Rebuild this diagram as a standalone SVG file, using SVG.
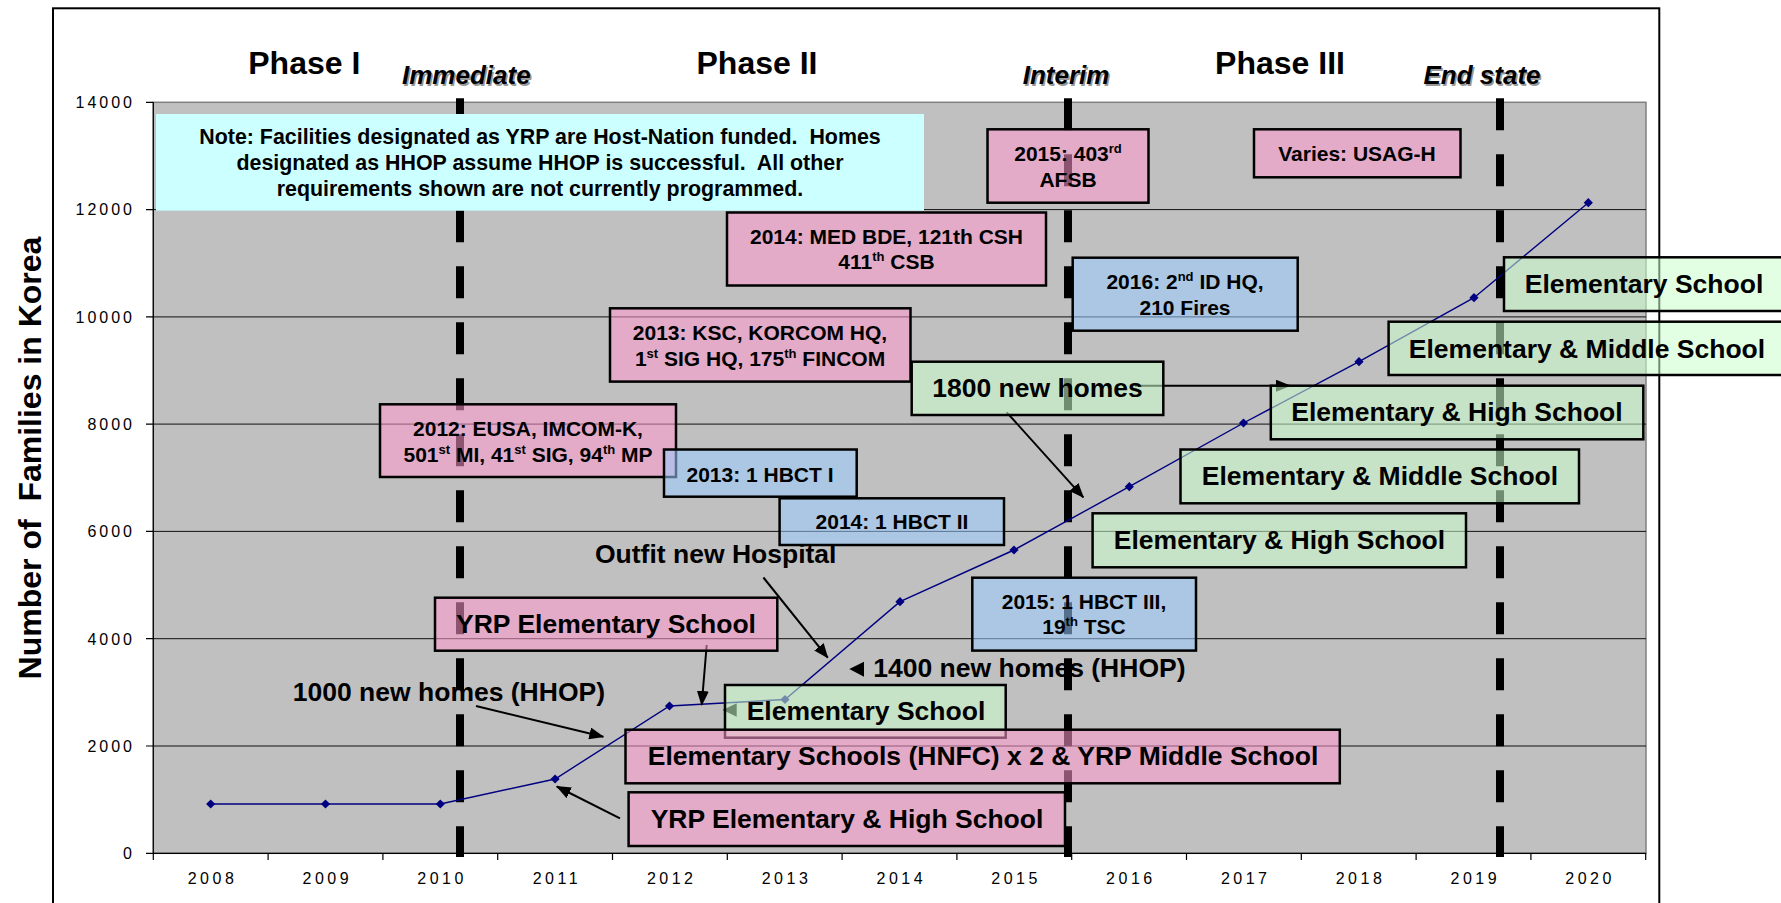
<svg xmlns="http://www.w3.org/2000/svg" width="1781" height="903" viewBox="0 0 1781 903">
<defs>
<style>
text{font-family:"Liberation Sans",Arial,sans-serif;font-weight:bold;fill:#000}
.ph{font-size:32px;text-anchor:middle}
.it{font-size:26px;font-style:italic;text-anchor:middle}
.sh{fill:#999}
.ax{font-weight:normal;font-size:16px;letter-spacing:3px}
.ytl{text-anchor:end}
.xtl{text-anchor:middle;letter-spacing:3.5px}
.s{font-size:21px;text-anchor:middle}
.nt{font-size:21.4px;text-anchor:middle;white-space:pre}
.b{font-size:26.5px;text-anchor:middle}
.bs{font-size:26.5px}
.sup{font-size:13px}
.bx{stroke:#000;stroke-width:2.5}
.pk{fill:#FF99CC;fill-opacity:.55}
.bl{fill:#99CCFF;fill-opacity:.55}
.gr{fill:#CCFFCC;fill-opacity:.55}
.grid{stroke:#111;stroke-width:1}
.dash{stroke:#000;stroke-width:8;stroke-dasharray:32 24;fill:none}
.conn{stroke:#000;stroke-width:2;fill:none}
</style>
<marker id="ah" viewBox="0 0 15 12" refX="14" refY="6" markerWidth="15" markerHeight="12" markerUnits="userSpaceOnUse" orient="auto">
<path d="M0,0 L15,6 L0,12 z" fill="#000"/>
</marker>
<path id="dm" d="M0,-4.6 L4.6,0 L0,4.6 L-4.6,0 z" fill="#000080"/>
</defs>
<rect width="1781" height="903" fill="#fff"/>
<rect x="53" y="8.3" width="1606.3" height="1000" fill="none" stroke="#000" stroke-width="2"/>

<g id="chart">
<rect x="153.3" y="102.3" width="1492.7" height="751" fill="#C0C0C0" stroke="#808080" stroke-width="1.5"/>
<g class="grid">
<line x1="153.3" y1="746" x2="1646" y2="746"/>
<line x1="153.3" y1="638.7" x2="1646" y2="638.7"/>
<line x1="153.3" y1="531.4" x2="1646" y2="531.4"/>
<line x1="153.3" y1="424.1" x2="1646" y2="424.1"/>
<line x1="153.3" y1="316.9" x2="1646" y2="316.9"/>
<line x1="153.3" y1="209.6" x2="1646" y2="209.6"/>
</g>
<g stroke="#000" stroke-width="1.2">
<line x1="153.3" y1="102.3" x2="153.3" y2="853.3"/>
<line x1="153.3" y1="853.3" x2="1646" y2="853.3"/>
<path d="M146,853.3H153.3M146,746H153.3M146,638.7H153.3M146,531.4H153.3M146,424.1H153.3M146,316.9H153.3M146,209.6H153.3M146,102.3H153.3"/>
<path d="M153.3,853.3V860M268.1,853.3V860M382.9,853.3V860M497.7,853.3V860M612.5,853.3V860M727.3,853.3V860M842.1,853.3V860M956.9,853.3V860M1071.7,853.3V860M1186.5,853.3V860M1301.3,853.3V860M1416.1,853.3V860M1530.9,853.3V860M1645.7,853.3V860"/>
</g>
<g>
<text class="ax ytl" x="135" y="859">0</text>
<text class="ax ytl" x="135" y="751.8">2000</text>
<text class="ax ytl" x="135" y="644.5">4000</text>
<text class="ax ytl" x="135" y="537.2">6000</text>
<text class="ax ytl" x="135" y="429.9">8000</text>
<text class="ax ytl" x="135" y="322.7">10000</text>
<text class="ax ytl" x="135" y="215.4">12000</text>
<text class="ax ytl" x="135" y="108.1">14000</text>
</g>
<g>
<text class="ax xtl" x="212.5" y="883.5">2008</text>
<text class="ax xtl" x="327.3" y="883.5">2009</text>
<text class="ax xtl" x="442.1" y="883.5">2010</text>
<text class="ax xtl" x="556.9" y="883.5">2011</text>
<text class="ax xtl" x="671.7" y="883.5">2012</text>
<text class="ax xtl" x="786.5" y="883.5">2013</text>
<text class="ax xtl" x="901.3" y="883.5">2014</text>
<text class="ax xtl" x="1016.1" y="883.5">2015</text>
<text class="ax xtl" x="1130.9" y="883.5">2016</text>
<text class="ax xtl" x="1245.7" y="883.5">2017</text>
<text class="ax xtl" x="1360.5" y="883.5">2018</text>
<text class="ax xtl" x="1475.3" y="883.5">2019</text>
<text class="ax xtl" x="1590.1" y="883.5">2020</text>
</g>
<text transform="translate(41,458) rotate(-90)" font-size="32" text-anchor="middle" style="white-space:pre">Number of  Families in Korea</text>
</g>

<g id="phases">
<text class="ph" x="304.3" y="74">Phase I</text>
<text class="ph" x="757" y="74">Phase II</text>
<text class="ph" x="1280" y="74">Phase III</text>
<text class="it sh" x="467.8" y="85.5">Immediate</text>
<text class="it" x="466.3" y="84">Immediate</text>
<text class="it sh" x="1067.5" y="85.5">Interim</text>
<text class="it" x="1066" y="84">Interim</text>
<text class="it sh" x="1483.5" y="85.5">End state</text>
<text class="it" x="1482" y="84">End state</text>
</g>

<g id="milestones">
<line class="dash" x1="460" y1="98.3" x2="460" y2="857"/>
<line class="dash" x1="1068" y1="98.3" x2="1068" y2="857"/>
<line class="dash" x1="1500" y1="98.3" x2="1500" y2="857"/>
</g>

<g id="series">
<polyline points="210.7,804 325.5,804 440.3,804 555.1,779 669.5,706 785,699.5 900,601.7 1014,550 1129.3,486.7 1243.5,423 1359,361.7 1474,297.7 1588.3,202.7" fill="none" stroke="#000080" stroke-width="1.4"/>
<use href="#dm" x="210.7" y="804"/>
<use href="#dm" x="325.5" y="804"/>
<use href="#dm" x="440.3" y="804"/>
<use href="#dm" x="555.1" y="779"/>
<use href="#dm" x="669.5" y="706"/>
<use href="#dm" x="785" y="699.5"/>
<use href="#dm" x="900" y="601.7"/>
<use href="#dm" x="1014" y="550"/>
<use href="#dm" x="1129.3" y="486.7"/>
<use href="#dm" x="1243.5" y="423"/>
<use href="#dm" x="1359" y="361.7"/>
<use href="#dm" x="1474" y="297.7"/>
<use href="#dm" x="1588.3" y="202.7"/>
</g>

<g id="connectors">
<line class="conn" x1="476" y1="706" x2="603.3" y2="736.7" marker-end="url(#ah)"/>
<line class="conn" x1="706.7" y1="645" x2="701.7" y2="705" marker-end="url(#ah)"/>
<line class="conn" x1="763.4" y1="577.5" x2="827.7" y2="657.7" marker-end="url(#ah)"/>
<line class="conn" x1="620" y1="818.3" x2="556.8" y2="786.5" marker-end="url(#ah)"/>
<line class="conn" x1="1006.7" y1="412.3" x2="1083.3" y2="497.3" marker-end="url(#ah)"/>
<line class="conn" x1="1135" y1="385.7" x2="1290" y2="385.7" marker-end="url(#ah)"/>
<polygon points="849.3,669 864,661.7 864,676.7" fill="#000"/>
<polygon points="722.7,710 736.7,703.3 736.7,716.7" fill="#000"/>
</g>

<g id="note">
<rect x="156" y="114" width="768" height="96.7" fill="#CCFFFF"/>
<text class="nt" x="540" y="144">Note: Facilities designated as YRP are Host-Nation funded.  Homes</text>
<text class="nt" x="540" y="170">designated as HHOP assume HHOP is successful.  All other</text>
<text class="nt" x="540" y="195.5">requirements shown are not currently programmed.</text>
</g>

<g id="n2012-eusa">
<rect class="bx pk" x="380" y="404.3" width="296" height="72.7"/>
<text class="s" x="528" y="436">2012: EUSA, IMCOM-K,</text>
<text class="s" x="528" y="461.7">501<tspan class="sup" dy="-8">st</tspan><tspan dy="8"> MI, 41</tspan><tspan class="sup" dy="-8">st</tspan><tspan dy="8"> SIG, 94</tspan><tspan class="sup" dy="-8">th</tspan><tspan dy="8"> MP</tspan></text>
</g>
<g id="n2013-hbct1">
<rect class="bx bl" x="664" y="449.5" width="192.7" height="47.2"/>
<text class="s" x="760" y="481.7">2013: 1 HBCT I</text>
</g>
<g id="n2013-ksc">
<rect class="bx pk" x="610" y="308.3" width="300.5" height="73.3"/>
<text class="s" x="760" y="340">2013: KSC, KORCOM HQ,</text>
<text class="s" x="760" y="365.7">1<tspan class="sup" dy="-8">st</tspan><tspan dy="8"> SIG HQ, 175</tspan><tspan class="sup" dy="-8">th</tspan><tspan dy="8"> FINCOM</tspan></text>
</g>
<g id="n2014-med">
<rect class="bx pk" x="727" y="212.5" width="319" height="73"/>
<text class="s" x="886.5" y="244">2014: MED BDE, 121th CSH</text>
<text class="s" x="886.5" y="269">411<tspan class="sup" dy="-8">th</tspan><tspan dy="8"> CSB</tspan></text>
</g>
<g id="n2014-hbct2">
<rect class="bx bl" x="779.6" y="498.3" width="224.4" height="46.7"/>
<text class="s" x="892" y="529.3">2014: 1 HBCT II</text>
</g>
<g id="n-yrp-es">
<rect class="bx pk" x="435" y="597.7" width="342.3" height="53"/>
<text class="b" x="606" y="633.3">YRP Elementary School</text>
</g>
<g id="n-es-2013">
<rect class="bx gr" x="725" y="685" width="280.7" height="52.7"/>
<text class="bs" x="746.7" y="720">Elementary School</text>
</g>
<g id="n-es-hnfc">
<rect class="bx pk" x="625.5" y="729.7" width="714.3" height="53.6"/>
<text class="b" x="983" y="765">Elementary Schools (HNFC) x 2 &amp; YRP Middle School</text>
</g>
<g id="n-yrp-ehs">
<rect class="bx pk" x="628.6" y="792.3" width="436.4" height="53.7"/>
<text class="b" x="847" y="828.3">YRP Elementary &amp; High School</text>
</g>
<g id="n2015-hbct3">
<rect class="bx bl" x="972.3" y="577.7" width="223.7" height="72.9"/>
<text class="s" x="1084" y="609">2015: 1 HBCT III,</text>
<text class="s" x="1084" y="634">19<tspan class="sup" dy="-8">th</tspan><tspan dy="8"> TSC</tspan></text>
</g>
<g id="n2015-afsb">
<rect class="bx pk" x="987.5" y="129.3" width="161" height="73.4"/>
<text class="s" x="1068" y="160.7">2015: 403<tspan class="sup" dy="-8">rd</tspan></text>
<text class="s" x="1068" y="186.7">AFSB</text>
</g>
<g id="n-usag">
<rect class="bx pk" x="1254" y="129.3" width="206.5" height="48"/>
<text class="s" x="1357" y="160.7">Varies: USAG-H</text>
</g>
<g id="n2016-id">
<rect class="bx bl" x="1072.7" y="257.7" width="225" height="73"/>
<text class="s" x="1185" y="289.3">2016: 2<tspan class="sup" dy="-8">nd</tspan><tspan dy="8"> ID HQ,</tspan></text>
<text class="s" x="1185" y="315">210 Fires</text>
</g>
<g id="n-1800">
<rect class="bx gr" x="911.7" y="361.7" width="251.6" height="53.3"/>
<text class="b" x="1037.5" y="397.3">1800 new homes</text>
</g>
<g id="n-es-2019">
<rect class="bx gr" x="1504" y="257.3" width="280" height="53.7"/>
<text class="b" x="1644" y="293.3">Elementary School</text>
</g>
<g id="n-ems-2018">
<rect class="bx gr" x="1388.6" y="321.7" width="397" height="53.3"/>
<text class="b" x="1587" y="357.7">Elementary &amp; Middle School</text>
</g>
<g id="n-ehs-2017">
<rect class="bx gr" x="1270.8" y="385.7" width="372.5" height="53.6"/>
<text class="b" x="1457" y="421">Elementary &amp; High School</text>
</g>
<g id="n-ems-2016">
<rect class="bx gr" x="1180.5" y="449.5" width="398.5" height="53.8"/>
<text class="b" x="1380" y="485">Elementary &amp; Middle School</text>
</g>
<g id="n-ehs-2015">
<rect class="bx gr" x="1092.6" y="513.3" width="373.4" height="54"/>
<text class="b" x="1279.5" y="549">Elementary &amp; High School</text>
</g>
<g id="l-hospital">
<text class="bs" x="595" y="563.3">Outfit new Hospital</text>
</g>
<g id="l-1000">
<text class="bs" x="292.8" y="700.7">1000 new homes (HHOP)</text>
</g>
<g id="l-1400">
<text class="bs" x="873.3" y="676.7">1400 new homes (HHOP)</text>
</g>
</svg>
